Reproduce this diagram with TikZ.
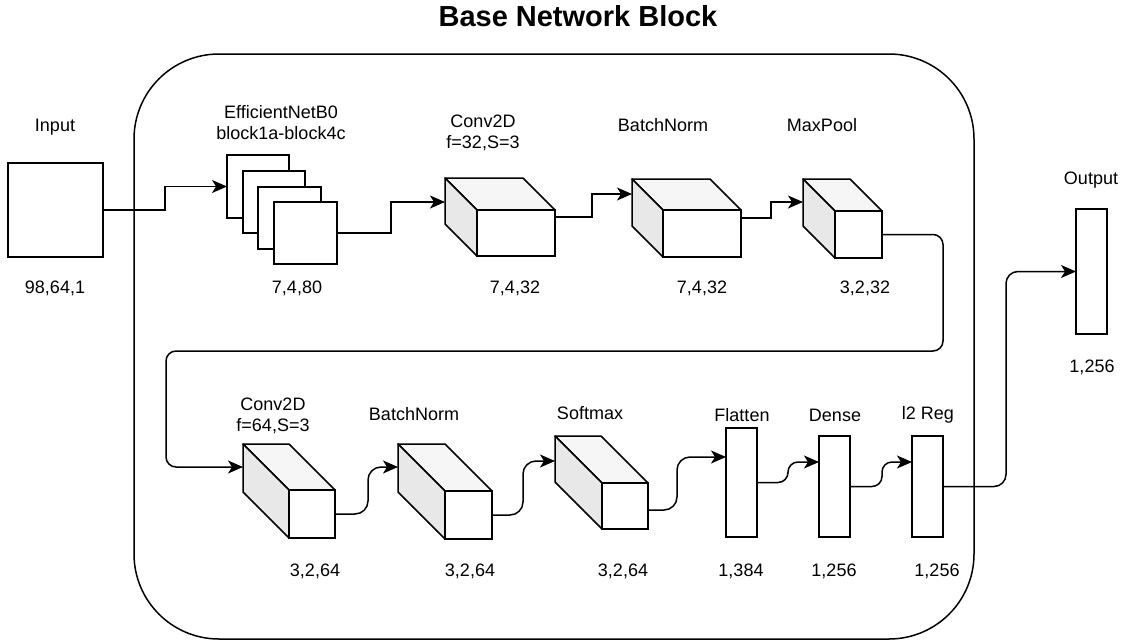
\documentclass[tikz,border=0pt]{standalone}
\usepackage{fontspec}
\setmainfont{Liberation Sans}
\usetikzlibrary{arrows.meta,calc}
\tikzset{
  lw/.style={line width=1.5pt},
  box/.style={draw, lw, fill=white, inner sep=0pt, outer sep=0pt},
  facetop/.style={draw, lw, fill=gray!7, line join=round},
  faceside/.style={draw, lw, fill=gray!18, line join=round},
  lbl/.style={font=\fontsize{18}{21}\selectfont, align=center, inner sep=0pt},
  conn/.style={draw, lw, -{Stealth[length=15pt,width=13pt,inset=4pt]}},
  plain/.style={draw, lw},
}
\newcommand{\mycuboid}[7]{% name, x0, y0, w, h, d, entry offset
  \filldraw[facetop] (#2,#3) -- ++(#4,0) -- ++(#6,#6) -- ++(-#4,0) -- cycle;
  \filldraw[faceside] (#2,#3) -- ++(#6,#6) -- ++(0,#5) -- ++(-#6,-#6) -- cycle;
  \node[box, minimum width=#4pt, minimum height=#5pt, anchor=north west] (#1) at (#2+#6,#3+#6) {};
  \coordinate (#1in) at (#2,#3+#7);
}
\newcommand{\mybar}[5]{% name, x1, y1, x2, y2
  \node[box, minimum width=#4pt-#2pt, minimum height=#5pt-#3pt] (#1) at ({(#2+#4)/2},{(#3+#5)/2}) {};
}
\begin{document}
\begin{tikzpicture}[x=1pt,y=-1pt]
\useasboundingbox (0,0) rectangle (1125,643);
% title
\node[font=\fontsize{29}{34}\selectfont\bfseries, inner sep=0pt] (title) at (578,16) {Base Network Block};
% block frame
\draw[lw, rounded corners=85pt] (134,54) rectangle (974,639);

% input
\mybar{inp}{8}{163}{103}{257}
\node[lbl] (tin) at (55,127) {Input};
\node[lbl] (din) at (55,288) {98,64,1};

% stacked efficientnet blocks
\mybar{s1}{227}{155}{289}{218}
\mybar{s2}{243}{171}{305}{233}
\mybar{s3}{258}{187}{321}{249}
\mybar{s4}{274}{202}{337}{264}
\node[lbl] (teff) at (281,123) {EfficientNetB0\\block1a-block4c};
\node[lbl] (deff) at (297,288) {7,4,80};

% top row cuboids
\mycuboid{c1}{445}{178}{78}{46}{32}{24}
\node[lbl] (tc1) at (483,133) {Conv2D\\f=32,S=3};
\node[lbl] (dc1) at (515,288) {7,4,32};

\mycuboid{c2}{632}{179}{78}{47}{31}{15}
\node[lbl] (tc2) at (663,125) {BatchNorm};
\node[lbl] (dc2) at (702,288) {7,4,32};

\mycuboid{c3}{803}{179}{47}{47}{32}{23}
\node[lbl] (tc3) at (822,125) {MaxPool};
\node[lbl] (dc3) at (865,288) {3,2,32};

% bottom row cuboids
\mycuboid{c4}{243}{444}{46}{48}{46}{23}
\node[lbl] (tc4) at (273,416) {Conv2D\\f=64,S=3};
\node[lbl] (dc4) at (315,571) {3,2,64};

\mycuboid{c5}{398}{444}{47}{48}{47}{23}
\node[lbl] (tc5) at (414,414) {BatchNorm};
\node[lbl] (dc5) at (470,571) {3,2,64};

\mycuboid{c6}{555}{436}{46}{46}{47}{25}
\node[lbl] (tc6) at (590,413) {Softmax};
\node[lbl] (dc6) at (623,571) {3,2,64};

% bars
\mybar{fl}{726}{428}{757}{537}
\node[lbl] (tfl) at (742,415) {Flatten};
\node[lbl] (dfl) at (741,571) {1,384};

\mybar{de}{819}{436}{850}{537}
\node[lbl] (tde) at (835,415) {Dense};
\node[lbl] (dde) at (834,571) {1,256};

\mybar{l2}{912}{436}{943}{537}
\node[lbl] (tl2) at (928,415) {l2 Reg};
\node[lbl] (dl2) at (937,571) {1,256};

\mybar{out}{1076}{209}{1107}{334}
\node[lbl] (tout) at (1091,180) {Output};
\node[lbl] (dout) at (1092,367) {1,256};

% connectors, top row
\draw[conn] (inp.east) -- ++(62,0) |- (s1.west);
\draw[conn] (s4.east) -- ++(54,0) |- (c1in);
\draw[conn] ($(c1.east)+(0,-16)$) -- ++(37,0) |- (c2in);
\draw[conn] ($(c2.east)+(0,-15.5)$) -- ++(30,0) |- (c3in);
% loop to bottom row
\draw[conn, rounded corners=10pt] (c3.east) -- ++(61,0) -- ++(0,116.5) -| ($(c4in)+(-77,0)$) -- (c4in);
% bottom row
\draw[conn, rounded corners=13pt] (c4.east) -- ++(33,0) |- (c5in);
\draw[conn, rounded corners=13pt] (c5.east) -- ++(31,0) |- (c6in);
\draw[conn, rounded corners=13pt] ($(c6.east)+(0,4)$) -- ++(29,0) |- ($(fl.north west)+(0,29)$);
\draw[conn, rounded corners=10pt] (fl.east) -- ++(31,0) |- ($(de.north west)+(0,26)$);
\draw[conn, rounded corners=10pt] (de.east) -- ++(32,0) |- ($(l2.north west)+(0,26)$);
\draw[conn, rounded corners=12pt] (l2.east) -- ++(63,0) |- (out.west);
\end{tikzpicture}
\end{document}
